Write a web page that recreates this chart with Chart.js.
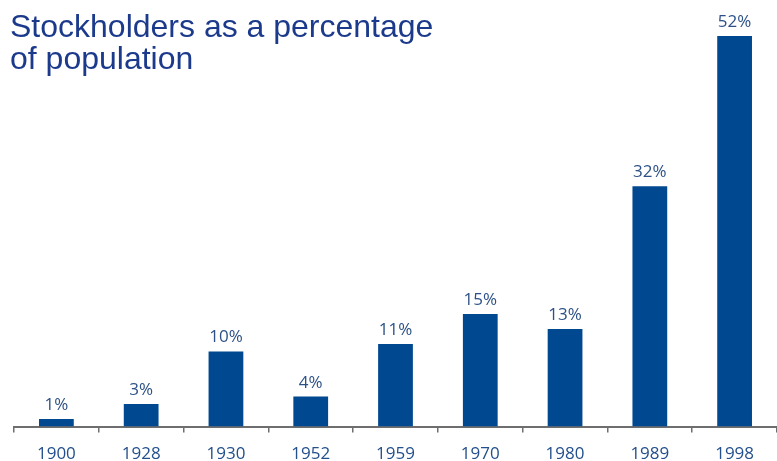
<!DOCTYPE html>
<html>
<head>
<meta charset="utf-8">
<script src="https://cdn.jsdelivr.net/npm/chart.js@4"></script>
<style>
  html, body { margin: 0; padding: 0; background: #ffffff; }
  #wrap { position: relative; width: 777px; height: 461px; overflow: hidden; }
  #chart { position: absolute; left: 0; top: 0; }
  #heading {
    position: absolute; left: 10px; top: 10px;
    font-family: "Liberation Sans", Arial, sans-serif;
    font-size: 32px; line-height: 32px; color: #1c3a8c;
    white-space: nowrap; pointer-events: none;
  }
</style>
</head>
<body>
<div id="wrap">
  <canvas id="chart" width="777" height="475"></canvas>
  <div id="heading">Stockholders as a percentage<br>of population</div>
</div>
<script>
// Survey years and share of the population owning stock (%)
const years = ['1900', '1928', '1930', '1952', '1959', '1970', '1980', '1989', '1998'];
const sharePct = [1, 3, 10, 4, 11, 15, 13, 32, 52];

const BAR_BLUE = '#004990';
const LABEL_BLUE = '#2d5187';
const TICK_BLUE = '#234f8c';
const AXIS_GREY = '#6e6e6e';

// Writes "NN%" above each bar
const valueLabels = {
  id: 'valueLabels',
  afterDatasetsDraw(chart) {
    const ctx = chart.ctx;
    const meta = chart.getDatasetMeta(0);
    ctx.save();
    ctx.font = '17px "Open Sans", "Noto Sans", sans-serif';
    ctx.fillStyle = LABEL_BLUE;
    ctx.textAlign = 'center';
    ctx.textBaseline = 'alphabetic';
    meta.data.forEach((bar, i) => {
      ctx.fillText(sharePct[i] + '%', bar.x, bar.y - 9);
    });
    ctx.restore();
  }
};

new Chart(document.getElementById('chart'), {
  type: 'bar',
  data: {
    labels: years,
    datasets: [{
      data: sharePct,
      backgroundColor: BAR_BLUE,
      borderWidth: 0,
      categoryPercentage: 1.0,
      barPercentage: 0.41
    }]
  },
  options: {
    responsive: false,
    animation: false,
    events: [],
    layout: { padding: { left: 14, right: 0, top: 36, bottom: 0 } },
    plugins: {
      legend: { display: false },
      title: { display: false },
      tooltip: { enabled: false }
    },
    scales: {
      x: {
        offset: true,
        grid: {
          offset: true,
          drawOnChartArea: false,
          drawTicks: true,
          tickLength: 6,
          color: AXIS_GREY,
          lineWidth: 1.5
        },
        border: { display: true, color: AXIS_GREY, width: 2 },
        ticks: {
          color: TICK_BLUE,
          padding: 11,
          font: { family: '"Open Sans", "Noto Sans", sans-serif', size: 17 }
        }
      },
      y: {
        display: false,
        min: 0,
        max: 52
      }
    }
  },
  plugins: [valueLabels]
});
</script>
</body>
</html>
